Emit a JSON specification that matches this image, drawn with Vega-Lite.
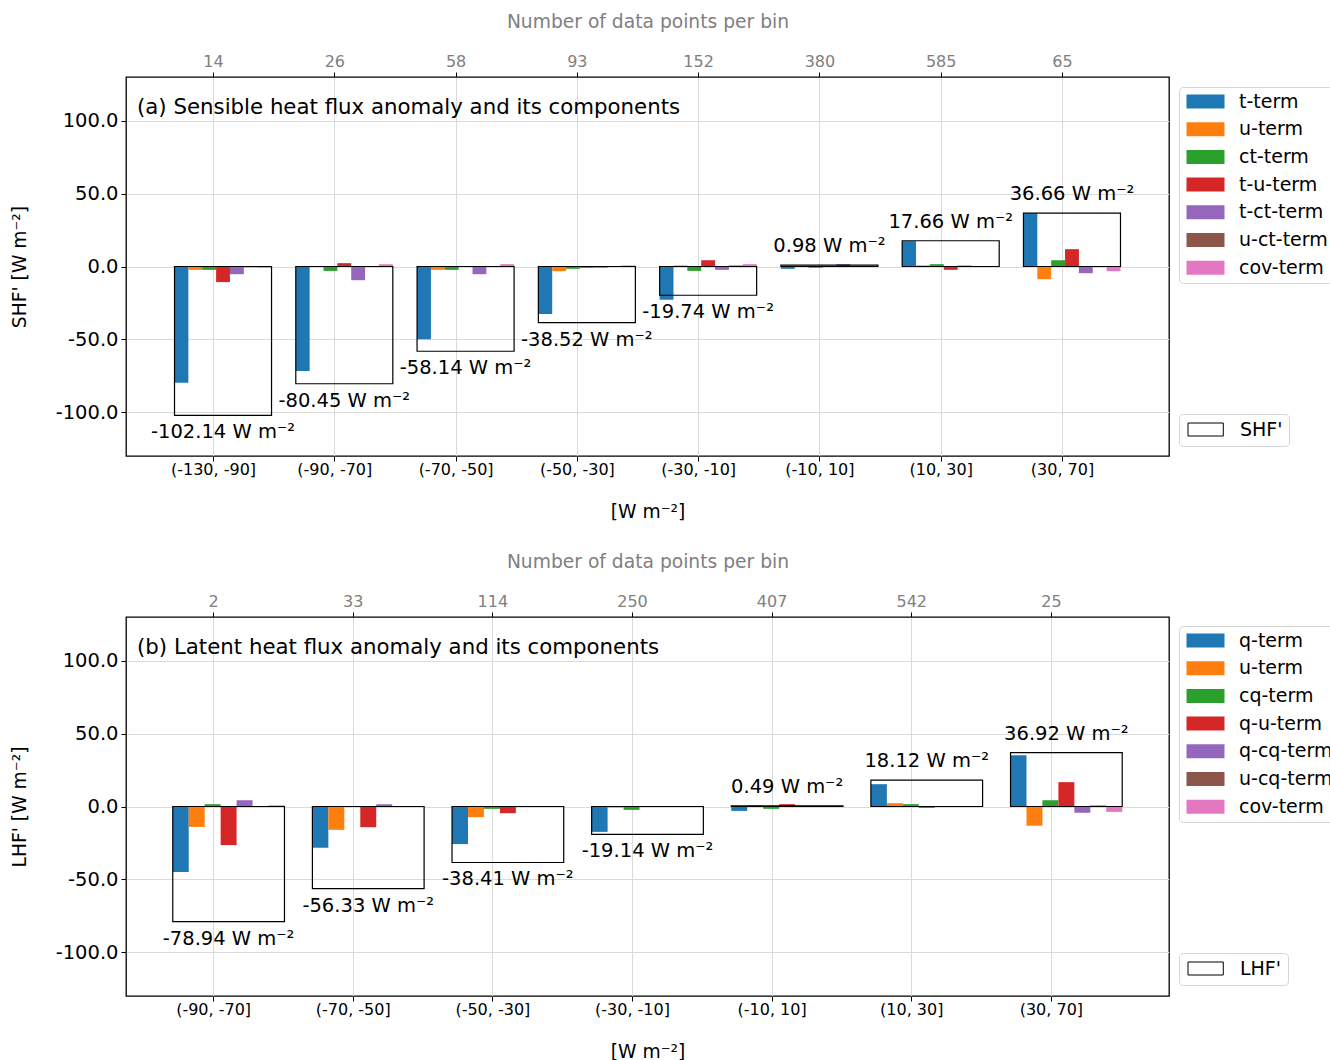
{
  "$schema": "https://vega.github.io/schema/vega-lite/v6.json",
  "padding": {"left": 9, "top": 11, "right": 0, "bottom": 0},
  "datasets": {
    "shf_terms": [
      {"bin": "(-130, -90]", "term": "t-term", "value": -79.7},
      {"bin": "(-130, -90]", "term": "u-term", "value": -2.3},
      {"bin": "(-130, -90]", "term": "ct-term", "value": -2.3},
      {"bin": "(-130, -90]", "term": "t-u-term", "value": -10.7},
      {"bin": "(-130, -90]", "term": "t-ct-term", "value": -5.3},
      {"bin": "(-130, -90]", "term": "u-ct-term", "value": -0.5},
      {"bin": "(-130, -90]", "term": "cov-term", "value": -0.9},
      {"bin": "(-90, -70]", "term": "t-term", "value": -71.7},
      {"bin": "(-90, -70]", "term": "u-term", "value": -0.3},
      {"bin": "(-90, -70]", "term": "ct-term", "value": -3.0},
      {"bin": "(-90, -70]", "term": "t-u-term", "value": 2.3},
      {"bin": "(-90, -70]", "term": "t-ct-term", "value": -9.4},
      {"bin": "(-90, -70]", "term": "u-ct-term", "value": 0.2},
      {"bin": "(-90, -70]", "term": "cov-term", "value": 1.6},
      {"bin": "(-70, -50]", "term": "t-term", "value": -49.9},
      {"bin": "(-70, -50]", "term": "u-term", "value": -2.3},
      {"bin": "(-70, -50]", "term": "ct-term", "value": -2.3},
      {"bin": "(-70, -50]", "term": "t-u-term", "value": -0.2},
      {"bin": "(-70, -50]", "term": "t-ct-term", "value": -5.3},
      {"bin": "(-70, -50]", "term": "u-ct-term", "value": 0.1},
      {"bin": "(-70, -50]", "term": "cov-term", "value": 1.6},
      {"bin": "(-50, -30]", "term": "t-term", "value": -32.6},
      {"bin": "(-50, -30]", "term": "u-term", "value": -3.2},
      {"bin": "(-50, -30]", "term": "ct-term", "value": -1.6},
      {"bin": "(-50, -30]", "term": "t-u-term", "value": -0.9},
      {"bin": "(-50, -30]", "term": "t-ct-term", "value": -0.9},
      {"bin": "(-50, -30]", "term": "u-ct-term", "value": -0.1},
      {"bin": "(-50, -30]", "term": "cov-term", "value": 0.7},
      {"bin": "(-30, -10]", "term": "t-term", "value": -22.8},
      {"bin": "(-30, -10]", "term": "u-term", "value": 0.7},
      {"bin": "(-30, -10]", "term": "ct-term", "value": -3.0},
      {"bin": "(-30, -10]", "term": "t-u-term", "value": 4.3},
      {"bin": "(-30, -10]", "term": "t-ct-term", "value": -2.3},
      {"bin": "(-30, -10]", "term": "u-ct-term", "value": 0.7},
      {"bin": "(-30, -10]", "term": "cov-term", "value": 1.6},
      {"bin": "(-10, 10]", "term": "t-term", "value": -1.6},
      {"bin": "(-10, 10]", "term": "u-term", "value": 0.4},
      {"bin": "(-10, 10]", "term": "ct-term", "value": -0.9},
      {"bin": "(-10, 10]", "term": "t-u-term", "value": 0.3},
      {"bin": "(-10, 10]", "term": "t-ct-term", "value": 1.6},
      {"bin": "(-10, 10]", "term": "u-ct-term", "value": 0.3},
      {"bin": "(-10, 10]", "term": "cov-term", "value": 0.3},
      {"bin": "(10, 30]", "term": "t-term", "value": 17.4},
      {"bin": "(10, 30]", "term": "u-term", "value": 0.7},
      {"bin": "(10, 30]", "term": "ct-term", "value": 1.6},
      {"bin": "(10, 30]", "term": "t-u-term", "value": -2.3},
      {"bin": "(10, 30]", "term": "t-ct-term", "value": 0.7},
      {"bin": "(10, 30]", "term": "u-ct-term", "value": 0.2},
      {"bin": "(10, 30]", "term": "cov-term", "value": 0.1},
      {"bin": "(30, 70]", "term": "t-term", "value": 36.5},
      {"bin": "(30, 70]", "term": "u-term", "value": -8.7},
      {"bin": "(30, 70]", "term": "ct-term", "value": 4.3},
      {"bin": "(30, 70]", "term": "t-u-term", "value": 11.9},
      {"bin": "(30, 70]", "term": "t-ct-term", "value": -4.6},
      {"bin": "(30, 70]", "term": "u-ct-term", "value": 0.3},
      {"bin": "(30, 70]", "term": "cov-term", "value": -3.2}
    ],
    "shf_total": [
      {"bin": "(-130, -90]", "total": -102.14, "n": 14},
      {"bin": "(-90, -70]", "total": -80.45, "n": 26},
      {"bin": "(-70, -50]", "total": -58.14, "n": 58},
      {"bin": "(-50, -30]", "total": -38.52, "n": 93},
      {"bin": "(-30, -10]", "total": -19.74, "n": 152},
      {"bin": "(-10, 10]", "total": 0.98, "n": 380},
      {"bin": "(10, 30]", "total": 17.66, "n": 585},
      {"bin": "(30, 70]", "total": 36.66, "n": 65}
    ],
    "lhf_terms": [
      {"bin": "(-90, -70]", "term": "q-term", "value": -45.0},
      {"bin": "(-90, -70]", "term": "u-term", "value": -14.0},
      {"bin": "(-90, -70]", "term": "cq-term", "value": 1.6},
      {"bin": "(-90, -70]", "term": "q-u-term", "value": -26.5},
      {"bin": "(-90, -70]", "term": "q-cq-term", "value": 4.3},
      {"bin": "(-90, -70]", "term": "u-cq-term", "value": 0.2},
      {"bin": "(-90, -70]", "term": "cov-term", "value": 0.8},
      {"bin": "(-70, -50]", "term": "q-term", "value": -28.3},
      {"bin": "(-70, -50]", "term": "u-term", "value": -16.0},
      {"bin": "(-70, -50]", "term": "cq-term", "value": 0.1},
      {"bin": "(-70, -50]", "term": "q-u-term", "value": -14.2},
      {"bin": "(-70, -50]", "term": "q-cq-term", "value": 1.6},
      {"bin": "(-70, -50]", "term": "u-cq-term", "value": 0.1},
      {"bin": "(-70, -50]", "term": "cov-term", "value": 0.1},
      {"bin": "(-50, -30]", "term": "q-term", "value": -25.8},
      {"bin": "(-50, -30]", "term": "u-term", "value": -7.3},
      {"bin": "(-50, -30]", "term": "cq-term", "value": -1.6},
      {"bin": "(-50, -30]", "term": "q-u-term", "value": -4.6},
      {"bin": "(-50, -30]", "term": "q-cq-term", "value": 0.1},
      {"bin": "(-50, -30]", "term": "u-cq-term", "value": 0.0},
      {"bin": "(-50, -30]", "term": "cov-term", "value": 0.1},
      {"bin": "(-30, -10]", "term": "q-term", "value": -17.4},
      {"bin": "(-30, -10]", "term": "u-term", "value": -0.7},
      {"bin": "(-30, -10]", "term": "cq-term", "value": -2.3},
      {"bin": "(-30, -10]", "term": "q-u-term", "value": 0.1},
      {"bin": "(-30, -10]", "term": "q-cq-term", "value": 0.0},
      {"bin": "(-30, -10]", "term": "u-cq-term", "value": 0.0},
      {"bin": "(-30, -10]", "term": "cov-term", "value": 0.1},
      {"bin": "(-10, 10]", "term": "q-term", "value": -3.0},
      {"bin": "(-10, 10]", "term": "u-term", "value": 0.7},
      {"bin": "(-10, 10]", "term": "cq-term", "value": -1.6},
      {"bin": "(-10, 10]", "term": "q-u-term", "value": 1.6},
      {"bin": "(-10, 10]", "term": "q-cq-term", "value": 0.1},
      {"bin": "(-10, 10]", "term": "u-cq-term", "value": 0.3},
      {"bin": "(-10, 10]", "term": "cov-term", "value": 0.2},
      {"bin": "(10, 30]", "term": "q-term", "value": 15.3},
      {"bin": "(10, 30]", "term": "u-term", "value": 2.3},
      {"bin": "(10, 30]", "term": "cq-term", "value": 1.6},
      {"bin": "(10, 30]", "term": "q-u-term", "value": -0.9},
      {"bin": "(10, 30]", "term": "q-cq-term", "value": 0.1},
      {"bin": "(10, 30]", "term": "u-cq-term", "value": 0.1},
      {"bin": "(10, 30]", "term": "cov-term", "value": 0.1},
      {"bin": "(30, 70]", "term": "q-term", "value": 35.2},
      {"bin": "(30, 70]", "term": "u-term", "value": -13.2},
      {"bin": "(30, 70]", "term": "cq-term", "value": 4.3},
      {"bin": "(30, 70]", "term": "q-u-term", "value": 16.7},
      {"bin": "(30, 70]", "term": "q-cq-term", "value": -4.3},
      {"bin": "(30, 70]", "term": "u-cq-term", "value": 0.7},
      {"bin": "(30, 70]", "term": "cov-term", "value": -3.7}
    ],
    "lhf_total": [
      {"bin": "(-90, -70]", "total": -78.94, "n": 2},
      {"bin": "(-70, -50]", "total": -56.33, "n": 33},
      {"bin": "(-50, -30]", "total": -38.41, "n": 114},
      {"bin": "(-30, -10]", "total": -19.14, "n": 250},
      {"bin": "(-10, 10]", "total": 0.49, "n": 407},
      {"bin": "(10, 30]", "total": 18.12, "n": 542},
      {"bin": "(30, 70]", "total": 36.92, "n": 25}
    ]
  },
  "vconcat": [
    {
      "width": 1043,
      "height": 379,
      "title": {"text": "(a) Sensible heat flux anomaly and its components", "anchor": "start", "frame": "group", "offset": -123, "dx": 11, "fontSize": 21.3, "fontWeight": "normal", "color": "black", "baseline": "alphabetic"},
      "layer": [
        {
          "layer": [
            {
              "data": {"name": "shf_terms"},
              "mark": {"type": "bar"},
              "encoding": {
                "x": {"field": "bin", "type": "nominal", "sort": null,
                  "scale": {"type": "band", "paddingInner": 0.2, "paddingOuter": 0.4},
                  "axis": {"title": "[W m⁻²]", "labelAngle": 0, "labelFontSize": 16, "titleFontSize": 18.7, "titleFontWeight": "normal", "titlePadding": 25, "tickSize": 5, "labelPadding": 0, "tickOffset": -10, "grid": true, "gridColor": "#dadada", "domain": false}},
                "xOffset": {"field": "term", "type": "nominal", "sort": null},
                "y": {"field": "value", "type": "quantitative",
                  "scale": {"domain": [-130, 130], "nice": false},
                  "axis": {"title": "SHF' [W m⁻²]", "values": [-100, -50, 0, 50, 100], "labelExpr": "(datum.value < 0 ? '-' : '') + format(abs(datum.value), '.1f')", "labelFontSize": 19.5, "titleFontSize": 18.7, "titleFontWeight": "normal", "titlePadding": 26, "tickSize": 5, "labelPadding": 3, "grid": true, "gridColor": "#dadada", "domain": false}},
                "color": {"field": "term", "type": "nominal", "sort": null,
                  "scale": {"range": ["#1f77b4", "#ff7f0e", "#2ca02c", "#d62728", "#9467bd", "#8c564b", "#e377c2"]},
                  "legend": {"orient": "none", "legendX": 1053, "legendY": 10, "title": null, "symbolType": "M-1,-1H4.43V1H-1Z", "symbolSize": 196, "symbolStrokeWidth": 0, "symbolOpacity": 1, "labelOffset": 36, "labelFontSize": 19, "padding": 5, "rowPadding": 7.7, "strokeColor": "#d5d5d5", "cornerRadius": 4, "fillColor": "white"}}
              }
            },
            {
              "data": {"name": "shf_total"},
              "mark": {"type": "bar", "filled": false, "strokeWidth": 1.2},
              "encoding": {
                "x": {"field": "bin", "type": "nominal", "sort": null},
                "y": {"field": "total", "type": "quantitative"},
                "stroke": {"datum": "SHF'", "type": "nominal", "scale": {"range": ["black"]},
                  "legend": {"orient": "none", "legendX": 1053, "legendY": 337, "title": null, "symbolType": "M-1,-1H4.43V1H-1Z", "symbolSize": 169, "symbolStrokeWidth": 1, "symbolFillColor": "white", "labelOffset": 36, "labelFontSize": 19, "padding": 6, "strokeColor": "#d5d5d5", "cornerRadius": 4, "fillColor": "white"}}
              }
            },
            {
              "data": {"name": "shf_total"},
              "transform": [{"filter": "datum.total < 0"}, {"calculate": "'-' + format(abs(datum.total), '.2f') + ' W m⁻²'", "as": "lab"}],
              "mark": {"type": "text", "baseline": "alphabetic", "dy": 23, "fontSize": 19.5, "color": "black"},
              "encoding": {
                "x": {"field": "bin", "type": "nominal", "sort": null},
                "y": {"field": "total", "type": "quantitative"},
                "text": {"field": "lab"}
              }
            },
            {
              "data": {"name": "shf_total"},
              "transform": [{"filter": "datum.total >= 0"}, {"calculate": "format(datum.total, '.2f') + ' W m⁻²'", "as": "lab"}],
              "mark": {"type": "text", "baseline": "alphabetic", "dy": -13, "fontSize": 19.5, "color": "black"},
              "encoding": {
                "x": {"field": "bin", "type": "nominal", "sort": null},
                "y": {"field": "total", "type": "quantitative"},
                "text": {"field": "lab"}
              }
            }
          ]
        },
        {
          "data": {"name": "shf_total"},
          "mark": {"type": "rule", "opacity": 0},
          "encoding": {
            "x": {"field": "n", "type": "nominal", "sort": null,
              "scale": {"type": "band", "paddingInner": 0.2, "paddingOuter": 0.4},
              "axis": {"orient": "top", "title": "Number of data points per bin", "titleColor": "#808080", "labelColor": "#808080", "titleFontSize": 18.7, "titleFontWeight": "normal", "labelFontSize": 16, "labelAngle": 0, "tickSize": 5, "labelPadding": 3, "titlePadding": 22, "domain": false, "grid": false, "tickOffset": -10}}
          }
        }
      ],
      "resolve": {"scale": {"x": "independent"}}
    },
    {
      "width": 1043,
      "height": 379,
      "title": {"text": "(b) Latent heat flux anomaly and its components", "anchor": "start", "frame": "group", "offset": -123, "dx": 11, "fontSize": 21.3, "fontWeight": "normal", "color": "black", "baseline": "alphabetic"},
      "layer": [
        {
          "layer": [
            {
              "data": {"name": "lhf_terms"},
              "mark": {"type": "bar"},
              "encoding": {
                "x": {"field": "bin", "type": "nominal", "sort": null,
                  "scale": {"type": "band", "paddingInner": 0.2, "paddingOuter": 0.335},
                  "axis": {"title": "[W m⁻²]", "labelAngle": 0, "labelFontSize": 16, "titleFontSize": 18.7, "titleFontWeight": "normal", "titlePadding": 25, "tickSize": 5, "labelPadding": 0, "tickOffset": -15.5, "grid": true, "gridColor": "#dadada", "domain": false}},
                "xOffset": {"field": "term", "type": "nominal", "sort": null},
                "y": {"field": "value", "type": "quantitative",
                  "scale": {"domain": [-130, 130], "nice": false},
                  "axis": {"title": "LHF' [W m⁻²]", "values": [-100, -50, 0, 50, 100], "labelExpr": "(datum.value < 0 ? '-' : '') + format(abs(datum.value), '.1f')", "labelFontSize": 19.5, "titleFontSize": 18.7, "titleFontWeight": "normal", "titlePadding": 26, "tickSize": 5, "labelPadding": 3, "grid": true, "gridColor": "#dadada", "domain": false}},
                "color": {"field": "term", "type": "nominal", "sort": null,
                  "scale": {"range": ["#1f77b4", "#ff7f0e", "#2ca02c", "#d62728", "#9467bd", "#8c564b", "#e377c2"]},
                  "legend": {"orient": "none", "legendX": 1053, "legendY": 9, "title": null, "symbolType": "M-1,-1H4.43V1H-1Z", "symbolSize": 196, "symbolStrokeWidth": 0, "symbolOpacity": 1, "labelOffset": 36, "labelFontSize": 19, "padding": 5, "rowPadding": 7.7, "strokeColor": "#d5d5d5", "cornerRadius": 4, "fillColor": "white"}}
              }
            },
            {
              "data": {"name": "lhf_total"},
              "mark": {"type": "bar", "filled": false, "strokeWidth": 1.2},
              "encoding": {
                "x": {"field": "bin", "type": "nominal", "sort": null},
                "y": {"field": "total", "type": "quantitative"},
                "stroke": {"datum": "LHF'", "type": "nominal", "scale": {"range": ["black"]},
                  "legend": {"orient": "none", "legendX": 1053, "legendY": 336, "title": null, "symbolType": "M-1,-1H4.43V1H-1Z", "symbolSize": 169, "symbolStrokeWidth": 1, "symbolFillColor": "white", "labelOffset": 36, "labelFontSize": 19, "padding": 6, "strokeColor": "#d5d5d5", "cornerRadius": 4, "fillColor": "white"}}
              }
            },
            {
              "data": {"name": "lhf_total"},
              "transform": [{"filter": "datum.total < 0"}, {"calculate": "'-' + format(abs(datum.total), '.2f') + ' W m⁻²'", "as": "lab"}],
              "mark": {"type": "text", "baseline": "alphabetic", "dy": 23, "fontSize": 19.5, "color": "black"},
              "encoding": {
                "x": {"field": "bin", "type": "nominal", "sort": null},
                "y": {"field": "total", "type": "quantitative"},
                "text": {"field": "lab"}
              }
            },
            {
              "data": {"name": "lhf_total"},
              "transform": [{"filter": "datum.total >= 0"}, {"calculate": "format(datum.total, '.2f') + ' W m⁻²'", "as": "lab"}],
              "mark": {"type": "text", "baseline": "alphabetic", "dy": -13, "fontSize": 19.5, "color": "black"},
              "encoding": {
                "x": {"field": "bin", "type": "nominal", "sort": null},
                "y": {"field": "total", "type": "quantitative"},
                "text": {"field": "lab"}
              }
            }
          ]
        },
        {
          "data": {"name": "lhf_total"},
          "mark": {"type": "rule", "opacity": 0},
          "encoding": {
            "x": {"field": "n", "type": "nominal", "sort": null,
              "scale": {"type": "band", "paddingInner": 0.2, "paddingOuter": 0.335},
              "axis": {"orient": "top", "title": "Number of data points per bin", "titleColor": "#808080", "labelColor": "#808080", "titleFontSize": 18.7, "titleFontWeight": "normal", "labelFontSize": 16, "labelAngle": 0, "tickSize": 5, "labelPadding": 3, "titlePadding": 22, "domain": false, "grid": false, "tickOffset": -15.5}}
          }
        }
      ],
      "resolve": {"scale": {"x": "independent"}}
    }
  ],
  "resolve": {
    "scale": {"color": "independent", "stroke": "independent", "xOffset": "independent", "y": "independent"},
    "legend": {"color": "independent", "stroke": "independent"},
    "axis": {"y": "independent"}
  },
  "config": {
    "font": "DejaVu Sans",
    "view": {"stroke": "black", "strokeWidth": 1.3},
    "axis": {"labelColor": "black", "titleColor": "black", "tickColor": "black", "labelFont": "DejaVu Sans", "titleFont": "DejaVu Sans"},
    "legend": {"labelFont": "DejaVu Sans", "labelColor": "black"},
    "title": {"font": "DejaVu Sans"},
    "text": {"font": "DejaVu Sans"},
    "concat": {"spacing": 29}
  }
}
